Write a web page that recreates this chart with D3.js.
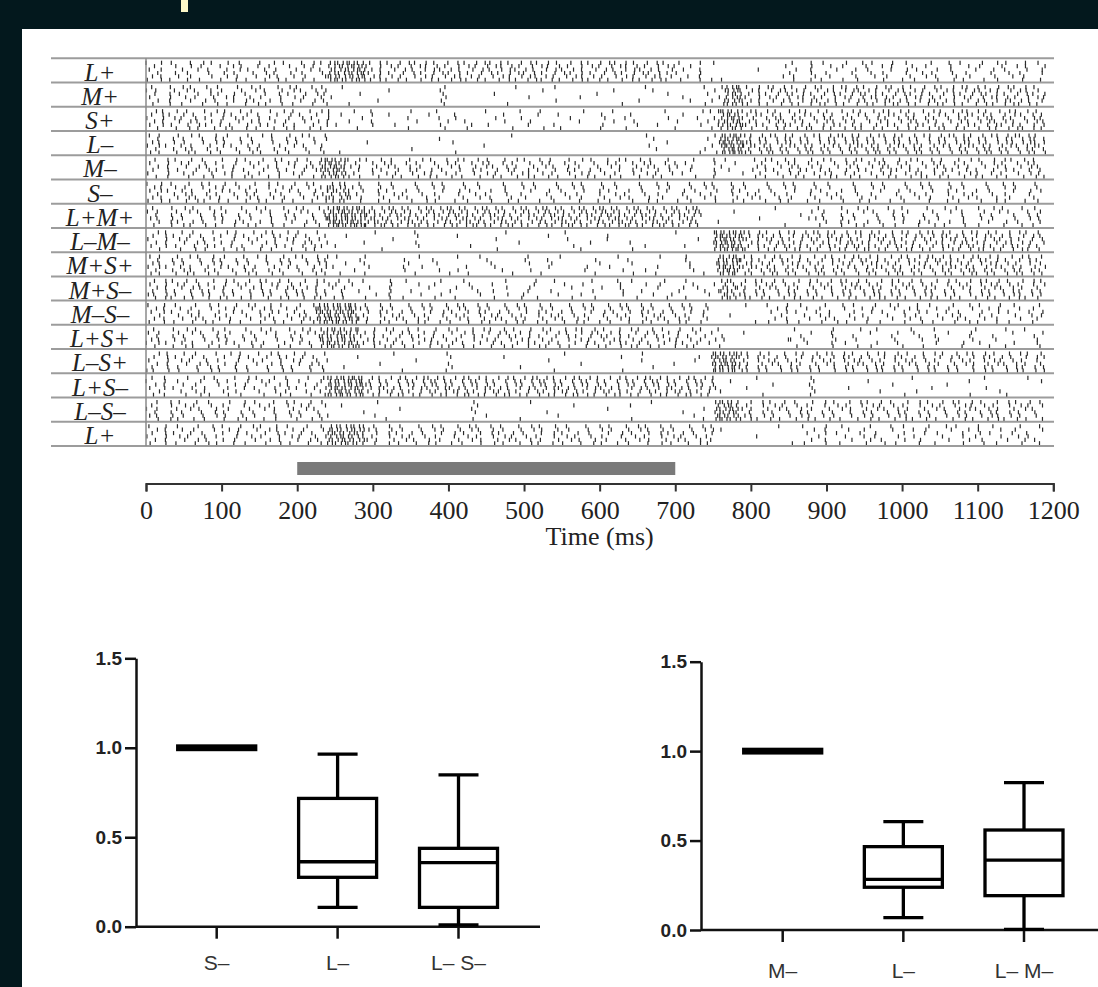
<!DOCTYPE html>
<html>
<head>
<meta charset="utf-8">
<script src="https://cdn.jsdelivr.net/npm/d3@7"></script>
<style>
  body { margin: 0; background: #03181d; }
  svg { display: block; }
</style>
</head>
<body>
<div id="chart"></div>
<script>
// raster conditions (top to bottom)
const conditions = ['L+', 'M+', 'S+', 'L–', 'M–', 'S–', 'L+M+', 'L–M–', 'M+S+', 'M+S–', 'M–S–', 'L+S+', 'L–S+', 'L+S–', 'L–S–', 'L+']

// firing rate segments: [start ms, end ms, spikes/s]
const rasterRates = [
  [[0, 240, 55], [240, 290, 190], [290, 700, 80], [700, 755, 40], [755, 840, 3], [840, 1190, 45]],
  [[0, 245, 55], [245, 740, 10], [740, 765, 40], [765, 790, 180], [790, 1190, 80]],
  [[0, 250, 60], [250, 740, 22], [740, 760, 45], [760, 790, 170], [790, 1190, 75]],
  [[0, 240, 55], [240, 735, 4], [735, 760, 40], [760, 790, 200], [790, 1190, 90]],
  [[0, 230, 55], [230, 265, 190], [265, 700, 60], [700, 780, 35], [780, 800, 6], [800, 1190, 65]],
  [[0, 240, 60], [240, 270, 120], [270, 1190, 45]],
  [[0, 240, 55], [240, 290, 200], [290, 735, 105], [735, 880, 7], [880, 1190, 45]],
  [[0, 240, 55], [240, 750, 10], [750, 790, 200], [790, 1190, 85]],
  [[0, 250, 60], [250, 755, 20], [755, 785, 180], [785, 1190, 80]],
  [[0, 270, 65], [270, 760, 27], [760, 780, 130], [780, 1190, 72]],
  [[0, 225, 55], [225, 280, 190], [280, 745, 60], [745, 820, 7], [820, 1190, 45]],
  [[0, 230, 55], [230, 280, 170], [280, 740, 65], [740, 765, 45], [765, 850, 4], [850, 1190, 28]],
  [[0, 240, 55], [240, 748, 8], [748, 785, 190], [785, 1190, 72]],
  [[0, 240, 48], [240, 290, 190], [290, 755, 90], [755, 1190, 11]],
  [[0, 240, 55], [240, 752, 8], [752, 785, 180], [785, 1190, 65]],
  [[0, 240, 55], [240, 290, 180], [290, 755, 60], [755, 865, 5], [865, 1190, 40]]
]

const timeTicks = [0, 100, 200, 300, 400, 500, 600, 700, 800, 900, 1000, 1100, 1200]
const stimulusWindow = [200, 700]

// box plots: [min, q1, median, q3, max]
const leftCategories = ['S–', 'L–', 'L– S–']
const leftBoxes = [
  [1.0, 0.99, 1.0, 1.01, 1.0],
  [0.108, 0.276, 0.363, 0.717, 0.965],
  [0.01, 0.108, 0.358, 0.438, 0.848]
]
const rightCategories = ['M–', 'L–', 'L– M–']
const rightBoxes = [
  [1.0, 0.99, 1.0, 1.01, 1.0],
  [0.069, 0.239, 0.283, 0.466, 0.606],
  [0.004, 0.192, 0.391, 0.559, 0.824]
]
const ratioTicks = [0, 0.5, 1.0, 1.5]

const width = 1098
const height = 987
const trialsPerRow = 6

const svg = d3.select('#chart')
  .append('svg')
  .attr('width', width)
  .attr('height', height)

// dark page with white figure panel
svg.append('rect')
  .attr('width', width)
  .attr('height', height)
  .attr('fill', '#03181d')

svg.append('rect')
  .attr('x', 181)
  .attr('y', 0)
  .attr('width', 7)
  .attr('height', 12)
  .attr('fill', '#fdf8c8')

svg.append('rect')
  .attr('x', 22)
  .attr('y', 29)
  .attr('width', width - 22)
  .attr('height', height - 29)
  .attr('fill', '#fff')

// ---------- raster ----------
const xTime = d3.scaleLinear()
  .domain([0, 1200])
  .range([146, 1053.3])

const yRow = d3.scaleBand()
  .domain(d3.range(conditions.length))
  .range([58.3, 446])

const raster = svg.append('g')

// spikes: each row holds several trials, ticks spaced around the read rate
const spikes = []
rasterRates.forEach((segments, r) => {
  segments.forEach(([t0, t1, rate], s) => {
    const step = 1000 / rate
    for (let k = 0; k < trialsPerRow; k++) {
      let t = t0 + ((k * 0.618034 + r * 0.4142 + s * 0.7321) % 1) * step
      let i = 0
      while (t < t1) {
        spikes.push({ row: r, trial: k, t: t })
        i += 1
        t += step * (0.45 + ((i * 0.618034 + k * 0.3819 + r * 0.2071) % 1) * 1.1)
      }
    }
  })
})

raster.selectAll('.spike')
  .data(spikes)
  .enter()
  .append('line')
    .attr('class', 'spike')
    .attr('x1', d => xTime(d.t))
    .attr('x2', d => xTime(d.t))
    .attr('y1', d => yRow(d.row) + 2.4 + d.trial * 3.4)
    .attr('y2', d => yRow(d.row) + 2.4 + d.trial * 3.4 + 4.2)
    .attr('stroke', '#2a2a2a')
    .attr('stroke-width', 1.2)

// row separators
raster.selectAll('.sep')
  .data(d3.range(conditions.length + 1))
  .enter()
  .append('line')
    .attr('class', 'sep')
    .attr('x1', 51)
    .attr('x2', 1054)
    .attr('y1', d => d < conditions.length ? yRow(d) : yRow.range()[1])
    .attr('y2', d => d < conditions.length ? yRow(d) : yRow.range()[1])
    .attr('stroke', '#9c9c9c')
    .attr('stroke-width', 2)

raster.append('line')
  .attr('x1', xTime(0))
  .attr('x2', xTime(0))
  .attr('y1', yRow.range()[0])
  .attr('y2', yRow.range()[1])
  .attr('stroke', '#8a8a8a')
  .attr('stroke-width', 1.5)

raster.selectAll('.rowLabel')
  .data(conditions)
  .enter()
  .append('text')
    .attr('class', 'rowLabel')
    .attr('x', 100)
    .attr('y', (d, i) => yRow(i) + yRow.bandwidth() - 2)
    .attr('text-anchor', 'middle')
    .attr('font-family', '"Liberation Serif", "Times New Roman", serif')
    .attr('font-style', 'italic')
    .attr('font-size', '25px')
    .attr('fill', '#222')
    .text(d => d)

// stimulus bar
svg.append('rect')
  .attr('x', xTime(stimulusWindow[0]))
  .attr('y', 462)
  .attr('width', xTime(stimulusWindow[1]) - xTime(stimulusWindow[0]))
  .attr('height', 13)
  .attr('fill', '#7a7a7a')

// time axis
const timeAxis = d3.axisBottom(xTime)
  .tickValues(timeTicks)
  .tickFormat(d3.format('d'))
  .tickSize(8)
  .tickPadding(9)

const timeGroup = svg.append('g')
  .attr('transform', 'translate(0, 483.5)')
  .call(timeAxis)

timeGroup.select('.domain')
  .attr('stroke', '#333')
  .attr('stroke-width', 2)
timeGroup.selectAll('.tick line')
  .attr('stroke', '#333')
  .attr('stroke-width', 2)
timeGroup.selectAll('.tick text')
  .attr('font-family', '"Liberation Serif", "Times New Roman", serif')
  .attr('font-size', '26px')
  .attr('fill', '#222')

svg.append('text')
  .attr('x', xTime(600))
  .attr('y', 545)
  .attr('text-anchor', 'middle')
  .attr('font-family', '"Liberation Serif", "Times New Roman", serif')
  .attr('font-size', '26px')
  .attr('fill', '#222')
  .text('Time (ms)')

// ---------- box plots ----------
const plotBoxes = (cats, boxes, opts) => {

  const y = d3.scaleLinear()
    .domain([0, 1.5])
    .range([opts.y0, opts.y1])

  const x = d3.scalePoint()
    .domain(cats)
    .range([opts.firstX, opts.lastX])

  const g = svg.append('g')

  const yAxis = d3.axisLeft(y)
    .tickValues(ratioTicks)
    .tickFormat(d3.format('.1f'))
    .tickSize(11)
    .tickPadding(3)
    .tickSizeOuter(0)

  const yGroup = g.append('g')
    .attr('transform', `translate(${opts.axisX}, 0)`)
    .call(yAxis)

  yGroup.select('.domain')
    .attr('stroke', '#111')
    .attr('stroke-width', 2.5)
  yGroup.selectAll('.tick line')
    .attr('stroke', '#111')
    .attr('stroke-width', 2.5)
  yGroup.selectAll('.tick text')
    .attr('font-family', '"Liberation Sans", Arial, sans-serif')
    .attr('font-weight', 'bold')
    .attr('font-size', '19px')
    .attr('fill', '#222')

  // x axis baseline
  g.append('line')
    .attr('x1', opts.axisX)
    .attr('x2', opts.axisEnd)
    .attr('y1', y(0))
    .attr('y2', y(0))
    .attr('stroke', '#111')
    .attr('stroke-width', 2.5)

  g.selectAll('.xtick')
    .data(cats)
    .enter()
    .append('line')
      .attr('class', 'xtick')
      .attr('x1', d => x(d))
      .attr('x2', d => x(d))
      .attr('y1', y(0))
      .attr('y2', y(0) + 12)
      .attr('stroke', '#111')
      .attr('stroke-width', 2.5)

  g.selectAll('.xlabel')
    .data(cats)
    .enter()
    .append('text')
      .attr('class', 'xlabel')
      .attr('x', d => x(d))
      .attr('y', opts.labelY)
      .attr('text-anchor', 'middle')
      .attr('font-family', '"Liberation Sans", Arial, sans-serif')
      .attr('font-size', '21px')
      .attr('fill', '#333')
      .text(d => d)

  const boxW = 78
  const capW = 40
  const lw = 3.3

  boxes.forEach((b, i) => {
    const cx = x(cats[i])
    const [mn, q1, med, q3, mx] = b

    const box = g.append('g')
      .attr('stroke', '#000')
      .attr('stroke-width', lw)

    // whiskers
    box.append('line')
      .attr('x1', cx).attr('x2', cx)
      .attr('y1', y(q3)).attr('y2', y(mx))
    box.append('line')
      .attr('x1', cx).attr('x2', cx)
      .attr('y1', y(q1)).attr('y2', y(mn))
    box.selectAll('.cap')
      .data([mn, mx])
      .enter()
      .append('line')
        .attr('x1', cx - capW / 2).attr('x2', cx + capW / 2)
        .attr('y1', d => y(d)).attr('y2', d => y(d))

    box.append('rect')
      .attr('x', cx - boxW / 2)
      .attr('y', y(q3))
      .attr('width', boxW)
      .attr('height', y(q1) - y(q3))
      .attr('fill', '#fff')

    box.append('line')
      .attr('x1', cx - boxW / 2).attr('x2', cx + boxW / 2)
      .attr('y1', y(med)).attr('y2', y(med))
  })
}

plotBoxes(leftCategories, leftBoxes, {
  y0: 926.7, y1: 658.3, axisX: 136, axisEnd: 540,
  firstX: 216.7, lastX: 458.5, labelY: 970
})

plotBoxes(rightCategories, rightBoxes, {
  y0: 930, y1: 661.7, axisX: 701, axisEnd: 1098,
  firstX: 782.7, lastX: 1024, labelY: 978
})
</script>
</body>
</html>
